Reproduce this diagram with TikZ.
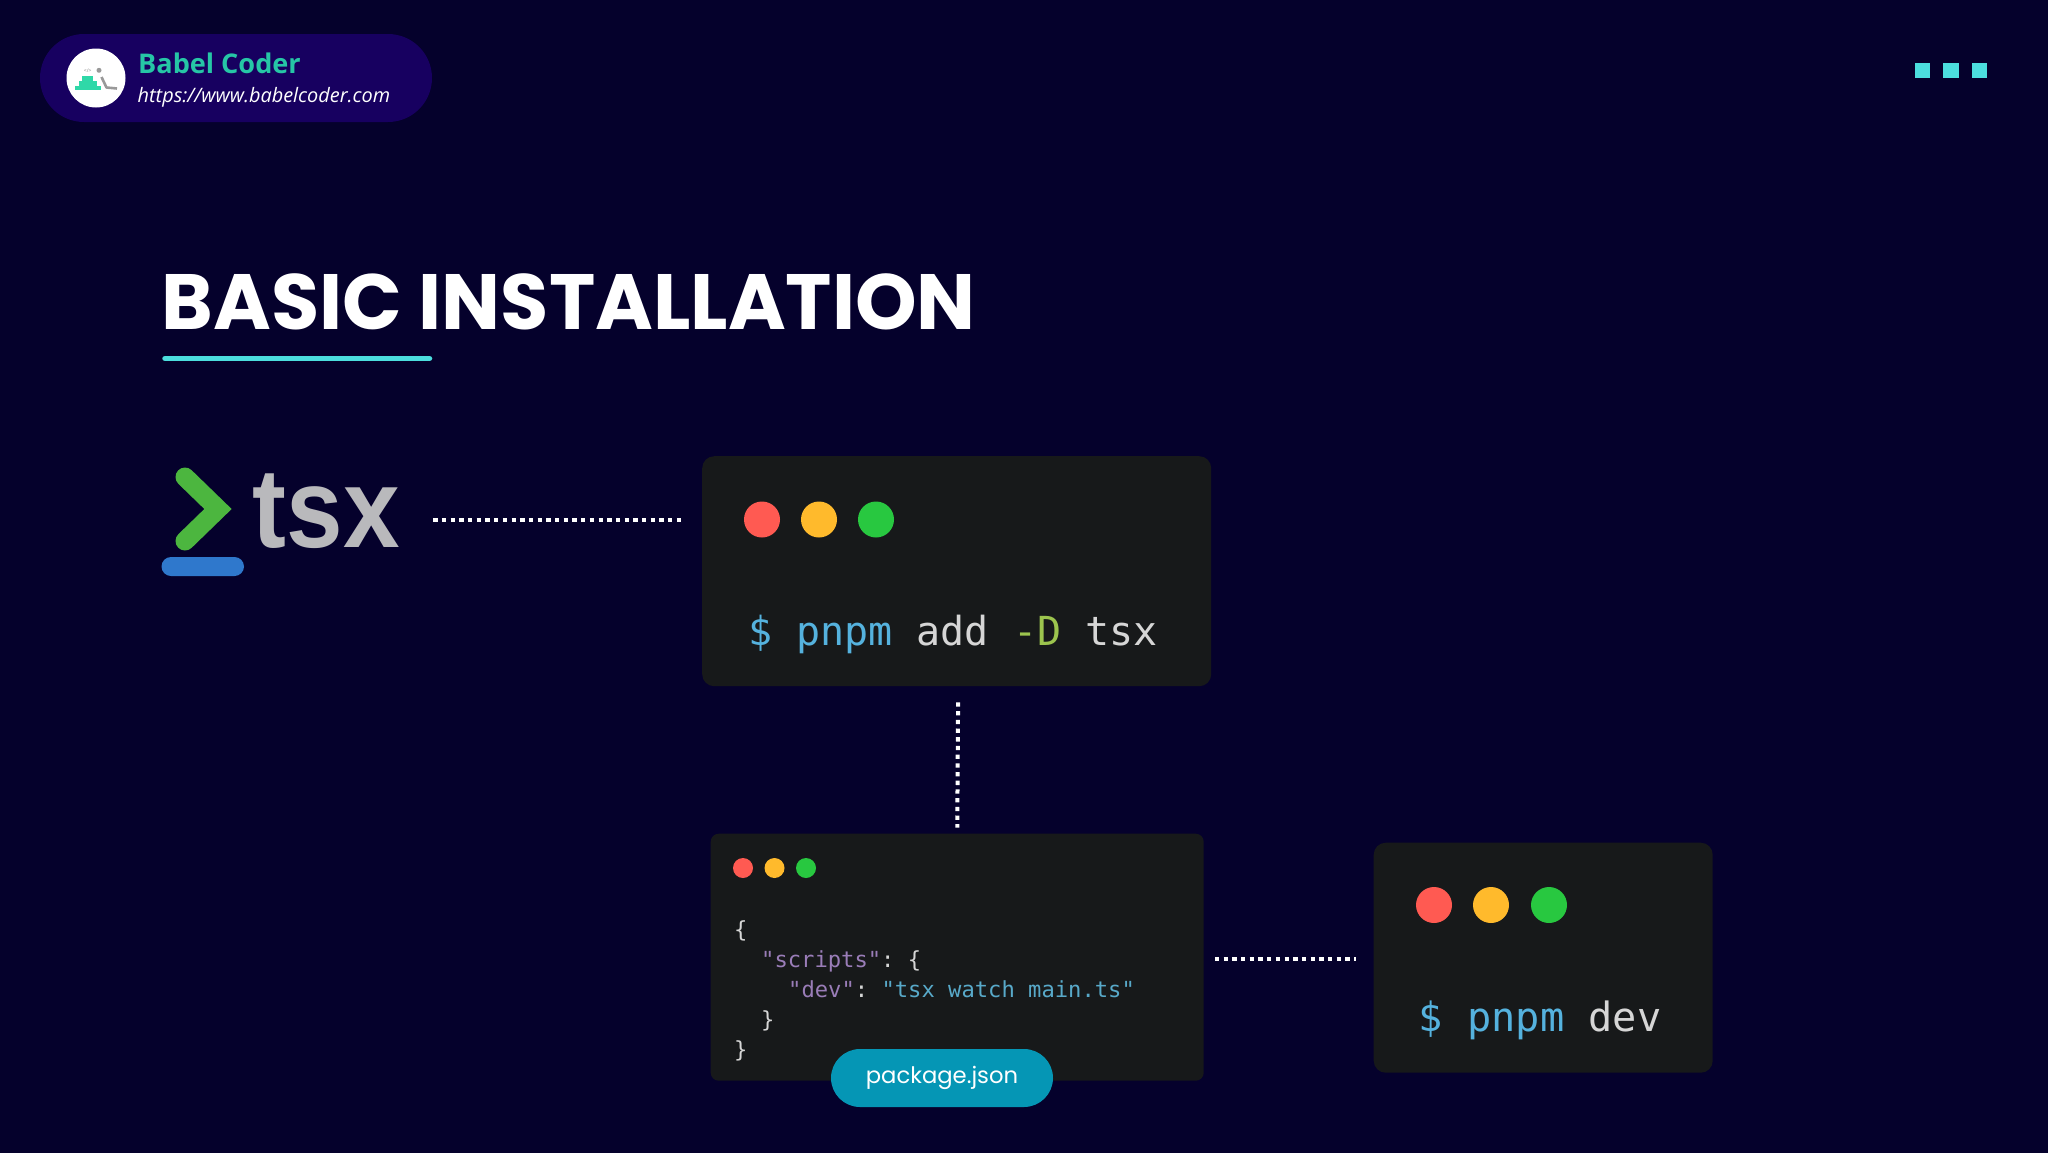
\documentclass[tikz,border=0pt]{standalone}
\usepackage{fontspec}
\setmainfont{Open Sans}
\newfontfamily\popp{Poppins}
\newfontfamily\monof{DejaVu Sans Mono}
\newfontfamily\tsxf{Liberation Sans}
\usetikzlibrary{positioning,calc}
\definecolor{bgc}{HTML}{05012C}
\definecolor{pillc}{HTML}{170060}
\definecolor{tealc}{HTML}{26C6A6}
\definecolor{tierc}{HTML}{2FD8A8}
\definecolor{cyanc}{HTML}{4CDEDE}
\definecolor{cardc}{HTML}{17191A}
\definecolor{redd}{HTML}{FF5A52}
\definecolor{yeld}{HTML}{FFBA2C}
\definecolor{grnd}{HTML}{28C840}
\definecolor{cmdb}{HTML}{55B2DE}
\definecolor{cmdw}{HTML}{D6D6D6}
\definecolor{cmdg}{HTML}{9CC44E}
\definecolor{keyp}{HTML}{9A7DB8}
\definecolor{strb}{HTML}{58A9C9}
\definecolor{pkgc}{HTML}{0596B5}
\definecolor{logog}{HTML}{4CB63F}
\definecolor{logob}{HTML}{2F78CC}
\definecolor{logot}{HTML}{B9B9BC}
\tikzset{
  x=1pt,y=-1pt,
  cardbox/.style={fill=cardc,rounded corners=#1,draw=none,inner sep=0pt,anchor=north west},
  dotline/.style={draw=white,line width=4pt,dash pattern=on 4.3pt off 4.4pt},
  wdot/.style={circle,inner sep=0pt,minimum size=#1,draw=none},
  cmd/.style={font=\monof\fontsize{#1}{40}\selectfont,anchor=base west,inner sep=0pt},
  code/.style={font=\monof\fontsize{22.15}{22}\selectfont\frenchspacing,anchor=base west,inner sep=0pt,text=cmdw},
  sq/.style={fill=cyanc,draw=none,inner sep=0pt,minimum size=15.5pt},
}
\begin{document}
\begin{tikzpicture}
\useasboundingbox (0,0) rectangle (2048,1152);
\fill[bgc] (-4,-4) rectangle (2052,1156);

% header
\node[fill=pillc,rounded corners=44pt,minimum width=392pt,minimum height=88pt,inner sep=0pt] (hdr) at (236,78) {};
\node[circle,fill=white,minimum size=59pt,inner sep=0pt] (avatar) at (96,78) {};
\fill[tierc] (75,86) rectangle (100.7,90);
\fill[tierc] (78.7,81) rectangle (96.7,86.2);
\fill[tierc] (82,75.7) rectangle (93,81.2);
\node[text=gray,font=\fontsize{5}{5}\selectfont,inner sep=0pt] (tag) at (87.7,70.3) {</>};
\fill[gray!80] (99,70.3) circle (2.5);
\draw[gray!80,line width=2.6pt,line join=round] (101.5,77) -- (106.5,87.5) -- (117,88.5);
\node[font=\fontsize{27.1}{28}\selectfont\bfseries,text=tealc,anchor=base west,inner sep=0pt] (brand) at (138,73) {Babel Coder};
\node[font=\fontsize{19.9}{22}\selectfont\itshape,text=white,anchor=base west,inner sep=0pt] (url) at (137.5,102) {https://www.babelcoder.com};

% top-right squares
\node[sq] (s1) at (1922.5,70.3) {};
\node[sq] (s2) at (1951,70.3) {};
\node[sq] (s3) at (1979.5,70.3) {};

% title
\node[font=\popp\bfseries\fontsize{78.4}{80}\selectfont,text=white,anchor=base west,inner sep=0pt] (title) at (161.5,329) {BASIC INSTALLATION};
\draw[cyanc,line width=5.5pt,line cap=round] (165,358.5) -- (429.5,358.5);

% tsx logo
\node[minimum width=237pt,minimum height=96pt,inner sep=0pt] (tsxlogo) at (278.5,520) {};
\draw[logog,line width=19pt,line cap=round,line join=miter] (185,477) -- (218,509) -- (185,541);
\fill[logob,rounded corners=9.5pt] (161.5,557) rectangle (244,576);
\node[text=logot,anchor=base west,inner sep=0pt,font=\tsxf\bfseries\fontsize{113}{113}\selectfont] (tsxword) at (252.6,547) {\scalebox{.9}[1]{tsx}};

% card 1
\node[cardbox=12pt,minimum width=509pt,minimum height=230pt] (card1) at (702,456) {};
\node[wdot=36pt,fill=redd] (c1r) at (762,519.5) {};
\node[wdot=36pt,fill=yeld] (c1y) at (819,519.5) {};
\node[wdot=36pt,fill=grnd] (c1g) at (876,519.5) {};
\node[cmd=40] (c1t) at (748,645) {\textcolor{cmdb}{\$ pnpm} \textcolor{cmdw}{add} \textcolor{cmdg}{-D} \textcolor{cmdw}{tsx}};

% card 2
\node[cardbox=8pt,minimum width=493pt,minimum height=247pt] (card2) at (710.5,833.5) {};
\node[wdot=20pt,fill=redd] (c2r) at (743,868) {};
\node[wdot=20pt,fill=yeld] (c2y) at (774.5,868) {};
\node[wdot=20pt,fill=grnd] (c2g) at (806,868) {};
\node[code] (l1) at (734,937.6) {\{};
\node[code] (l2) at (761,967.6) {\textcolor{keyp}{"scripts"}: \{};
\node[code] (l3) at (788,997.6) {\textcolor{keyp}{"dev"}: \textcolor{strb}{"tsx watch main.ts"}};
\node[code] (l4) at (761,1027.6) {\}};
\node[code] (l5) at (734,1057.6) {\}};
\node[fill=pkgc,rounded corners=29pt,minimum width=222pt,minimum height=58pt,inner sep=0pt,text=white,font=\popp\fontsize{22.7}{25}\selectfont] (pkg) at (942,1078) {\raisebox{-1pt}{package.json}};

% card 3
\node[cardbox=12pt,minimum width=339pt,minimum height=230pt] (card3) at (1373.5,842.5) {};
\node[wdot=36pt,fill=redd] (c3r) at (1434,905) {};
\node[wdot=36pt,fill=yeld] (c3y) at (1491,905) {};
\node[wdot=36pt,fill=grnd] (c3g) at (1549,905) {};
\node[cmd=40.3] (c3t) at (1418.5,1031) {\textcolor{cmdb}{\$ pnpm} \textcolor{cmdw}{dev}};

% connectors
\draw[dotline,shorten <=36pt,shorten >=18pt] (tsxlogo.east) -- (tsxlogo.east -| card1.west);
\draw[dotline,shorten <=16pt,shorten >=6pt] ([xshift=1.5pt]card1.south) -- (card2.north);
\draw[dotline,shorten <=11pt,shorten >=18pt] ([yshift=-2pt]card2.east) -- ([yshift=-2pt]card2.east -| card3.west);
\end{tikzpicture}
\end{document}
